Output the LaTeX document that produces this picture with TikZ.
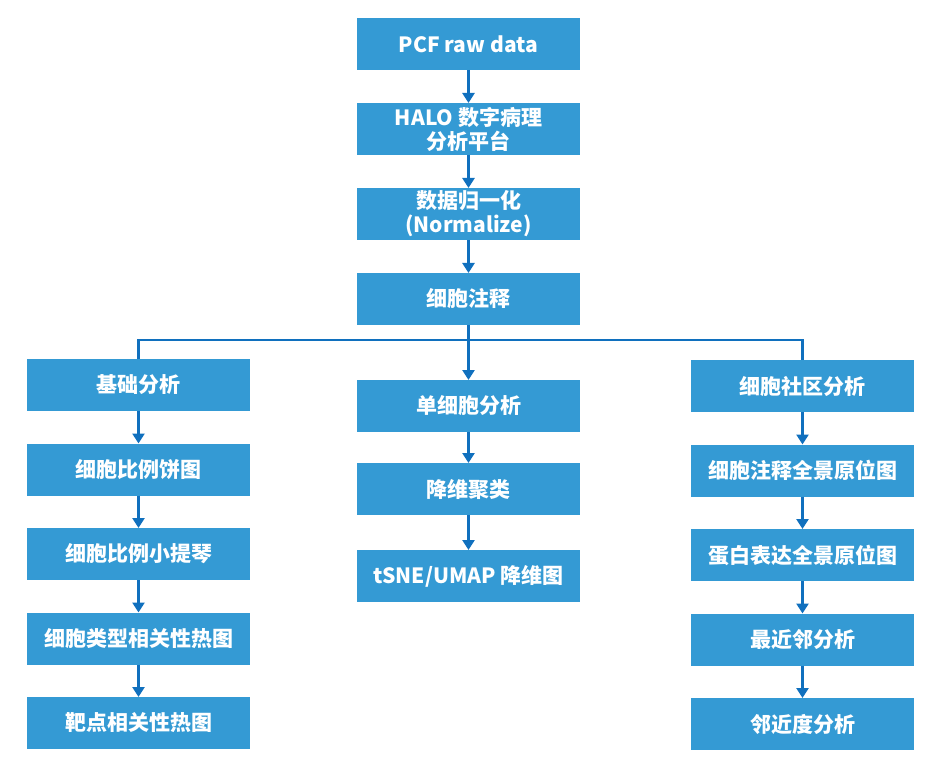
\documentclass[tikz,border=0pt]{standalone}
\usepackage{fontspec}
\setmainfont{Noto Sans CJK SC}
\usepackage{tikz}
\usetikzlibrary{arrows.meta, positioning, calc}
\definecolor{boxblue}{RGB}{52,154,212}
\definecolor{lineblue}{RGB}{16,112,190}

\begin{document}
\begin{tikzpicture}[x=1pt, y=-1pt, node distance=32.5pt,
		box/.style={fill=boxblue, text=white, minimum width=223pt, minimum height=52pt, inner sep=0pt, outer sep=0pt, align=center, font=\fontsize{21}{24}\selectfont\bfseries},
		arr/.style={draw=lineblue, line width=2.6pt, -{Triangle[width=12pt,length=10pt]}},
		link/.style={draw=lineblue, line width=2.6pt}]
			\useasboundingbox (0,0) rectangle (942,775);
			% main flow
			\node[box] (raw) at (468.5,44) {PCF raw data};
			\node[box, below =33pt of raw] (halo) {HALO 数字病理\\分析平台};
			\node[box, below =33pt of halo] (norm) {数据归一化\\(Normalize)};
			\node[box, below =33pt of norm] (annot) {细胞注释};
			\coordinate (bar) at (468.5,340);
			% left branch
			\node[box] (basic) at (138.5,385) {基础分析};
			\node[box, below =of basic] (pie) {细胞比例饼图};
			\node[box, below =of pie] (violin) {细胞比例小提琴};
			\node[box, below =of violin] (corr) {细胞类型相关性热图};
			\node[box, below =of corr] (target) {靶点相关性热图};
			% middle branch
			\node[box] (single) at (468.5,406) {单细胞分析};
			\node[box, below =31pt of single] (cluster) {降维聚类};
			\node[box, below =35pt of cluster] (tsne) {tSNE/UMAP 降维图};
			% right branch
			\node[box] (comm) at (802.5,386) {细胞社区分析};
			\node[box, below =of comm] (pano) {细胞注释全景原位图};
			\node[box, below =of pano] (prot) {蛋白表达全景原位图};
			\node[box, below =of prot] (nn) {最近邻分析};
			\node[box, below =of nn] (prox) {邻近度分析};
			% connectors
			\draw[arr] (raw) -- (halo);
			\draw[arr] (halo) -- (norm);
			\draw[arr] (norm) -- (annot);
			\draw[arr] (annot) -- (single);
			\draw[link] (basic.north) |- (bar) -| (comm.north);
			\draw[arr] (basic) -- (pie);
			\draw[arr] (pie) -- (violin);
			\draw[arr] (violin) -- (corr);
			\draw[arr] (corr) -- (target);
			\draw[arr] (single) -- (cluster);
			\draw[arr] (cluster) -- (tsne);
			\draw[arr] (comm) -- (pano);
			\draw[arr] (pano) -- (prot);
			\draw[arr] (prot) -- (nn);
			\draw[arr] (nn) -- (prox);
		\end{tikzpicture}
\end{document}
